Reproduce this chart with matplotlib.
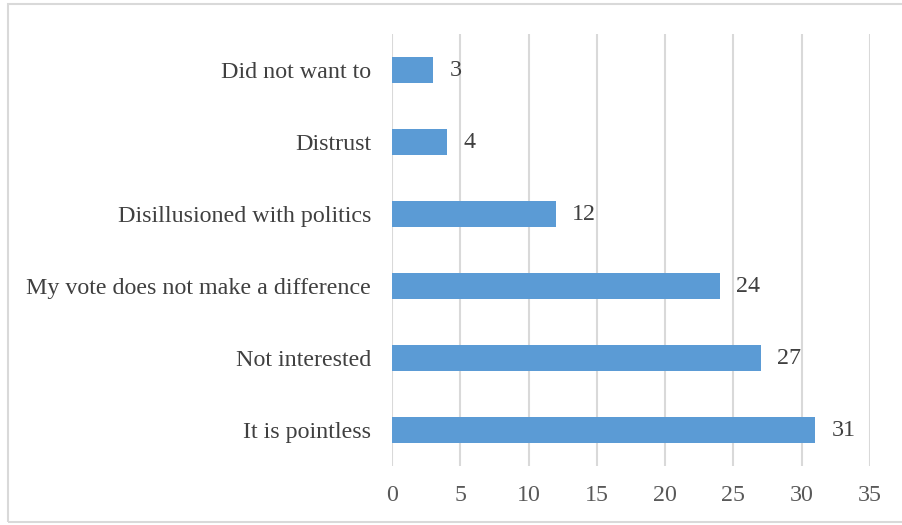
import matplotlib
matplotlib.use("Agg")
import matplotlib.pyplot as plt
from matplotlib.patches import Rectangle

categories = ["It is pointless", "Not interested", "My vote does not make a difference",
              "Disillusioned with politics", "Distrust", "Did not want to"]
values = [31, 27, 24, 12, 4, 3]
x_ticks = [0, 5, 10, 15, 20, 25, 30, 35]

W, H = 902, 525
fig = plt.figure(figsize=(W / 100, H / 100), dpi=100)
plt.rcParams['font.family'] = ['Liberation Serif', 'DejaVu Serif']

# outer chart frame (open on the right side)
fig.patches.append(Rectangle((8 / W, 1 - 522 / H), 1.0, (522 - 4) / H,
                             transform=fig.transFigure, fill=False,
                             edgecolor='#d9d9d9', linewidth=1.5, zorder=0))

left, right, top, bottom = 392, 870, 34, 466
ax = fig.add_axes([left / W, 1 - bottom / H, (right - left) / W, (bottom - top) / H])

fs = 17.3
text_col = '#595959'
bar_col = '#5b9bd5'
ypos = list(range(len(categories)))
ax.barh(ypos, values, height=0.36, color=bar_col, zorder=3)
for y, v in zip(ypos, values):
    ax.text(v + 1.2, y, str(v), va='center', ha='left', fontsize=fs, color='#404040')

ax.set_xlim(0, 35)
ax.set_ylim(-0.5, len(categories) - 0.5)
ax.set_xticks(x_ticks)
ax.set_xticklabels([str(t) for t in x_ticks], fontsize=fs, color=text_col)
ax.set_yticks(ypos)
ax.set_yticklabels(categories, fontsize=fs, color='#404040')
ax.tick_params(axis='both', length=0)
ax.tick_params(axis='x', pad=14)
ax.tick_params(axis='y', pad=15)
ax.grid(axis='x', color='#d9d9d9', linewidth=1.5, zorder=0)
for s in ax.spines.values():
    s.set_visible(False)

fig.savefig("out.png", dpi=100)
